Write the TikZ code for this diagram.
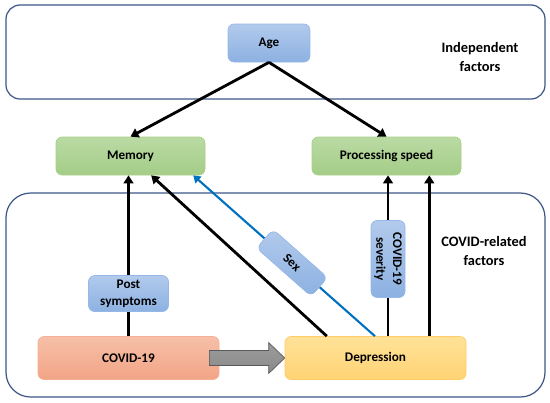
\documentclass[tikz,border=0pt]{standalone}
\usepackage{fontspec}
\setmainfont{Carlito}
\usepackage{xcolor}
\usepackage{tikz}
\usetikzlibrary{arrows.meta, positioning, calc}
\definecolor{framecol}{RGB}{62,86,136}
\definecolor{bluetop}{RGB}{178,202,236}
\definecolor{bluebot}{RGB}{140,177,226}
\definecolor{blueedge}{RGB}{150,184,230}
\definecolor{greentop}{RGB}{186,218,163}
\definecolor{greenbot}{RGB}{164,205,136}
\definecolor{greenedge}{RGB}{168,208,140}
\definecolor{covidtop}{RGB}{246,192,168}
\definecolor{covidbot}{RGB}{242,164,134}
\definecolor{covidedge}{RGB}{244,176,150}
\definecolor{deptop}{RGB}{255,226,152}
\definecolor{depbot}{RGB}{255,211,116}
\definecolor{depedge}{RGB}{255,204,102}
\definecolor{sexblue}{RGB}{0,112,192}
\definecolor{arrowgray}{RGB}{138,138,138}
\tikzset{
  groupframe/.style={
    draw=framecol, line width=0.7pt, rounded corners=8pt
  },
  grouplabel/.style={
    align=center, font=\bfseries\fontsize{8.2}{11.3}\selectfont
  },
  factorbox/.style={
    rounded corners=3.5pt, align=center, inner sep=0pt, line width=0.4pt,
    text=black, font=\bfseries\fontsize{7.5}{9.4}\selectfont
  },
  bluebox/.style={
    factorbox, draw=blueedge, top color=bluetop, bottom color=bluebot
  },
  greenbox/.style={
    factorbox, draw=greenedge, top color=greentop, bottom color=greenbot,
    minimum width=2.98cm, minimum height=0.76cm
  },
  mainbox/.style={
    factorbox, minimum width=3.62cm, minimum height=0.86cm
  },
  conn/.style={
    -{Triangle[length=4.5pt, width=5.5pt]}, line width=1.6pt, black
  },
  sexconn/.style={
    -{Triangle[length=4pt, width=5pt]}, line width=1.2pt, sexblue
  },
  grayarrow/.style={
    draw=black!65, line width=0.4pt, top color=arrowgray!85, bottom color=arrowgray
  },
}
\begin{document}
\begin{tikzpicture}
  \useasboundingbox (0,0) rectangle (11,-8.04);

  % Independent factors
  \draw[groupframe] (0.12,-0.10) rectangle (10.90,-1.98);
  \node[grouplabel] (indeplabel) at (9.6,-1.14) {Independent\\factors};
  \node[bluebox, minimum width=1.64cm, minimum height=0.76cm] (age) at (5.38,-0.86) {Age};

  % Outcomes
  \node[greenbox] (mem) at (2.61,-3.12) {Memory};
  \node[greenbox] (ps) at (7.73,-3.12) {Processing speed};

  % COVID-related factors
  \draw[groupframe, rounded corners=14pt] (0.12,-3.86) rectangle (10.90,-7.94);
  \node[grouplabel] (covlabel) at (9.68,-5.02) {COVID-related\\factors};
  \node[mainbox, draw=covidedge, top color=covidtop, bottom color=covidbot]
    (covid) at (2.57,-7.16) {COVID-19};
  \node[mainbox, draw=depedge, top color=deptop, bottom color=depbot]
    (dep) at (7.51,-7.16) {Depression};

  % COVID-19 leads to depression
  \draw[grayarrow] ($(covid.east)+(-0.2,0.15)$) -- ($(dep.west)+(-0.32,0.15)$)
    -- ($(dep.west)+(-0.32,0.31)$) -- (dep.west) -- ($(dep.west)+(-0.32,-0.31)$)
    -- ($(dep.west)+(-0.32,-0.15)$) -- ($(covid.east)+(-0.2,-0.15)$) -- cycle;

  % Age effects
  \draw[conn] (age.south) -- (mem.north);
  \draw[conn] (age.south) -- (ps.north);

  % Depression effects
  \coordinate (d1) at ($(dep.north west)!0.232!(dep.north east)$);
  \coordinate (d2) at ($(dep.north west)!0.497!(dep.north east)$);
  \coordinate (d3) at ($(dep.north west)!0.569!(dep.north east)$);
  \coordinate (d4) at ($(dep.north west)!0.796!(dep.north east)$);
  \coordinate (m1) at ($(mem.south west)!0.638!(mem.south east)$);
  \coordinate (m2) at ($(mem.south west)!0.919!(mem.south east)$);

  \draw[conn] (covid.north) -- (covid.north |- mem.south)
    node[bluebox, pos=0.265, minimum width=1.6cm, minimum height=0.72cm] (post) {Post\\symptoms};
  \draw[conn] (d1) -- (m1);
  \draw[sexconn] (d2) -- (m2)
    node[bluebox, sloped, pos=0.456, minimum width=1.46cm, minimum height=0.5cm] (sex) {Sex};
  \draw[conn] (d3) -- (d3 |- ps.south)
    node[bluebox, rotate=-90, pos=0.48, minimum width=1.54cm, minimum height=0.68cm] (sev) {COVID-19\\severity};
  \draw[conn] (d4) -- (d4 |- ps.south);
\end{tikzpicture}
\end{document}
